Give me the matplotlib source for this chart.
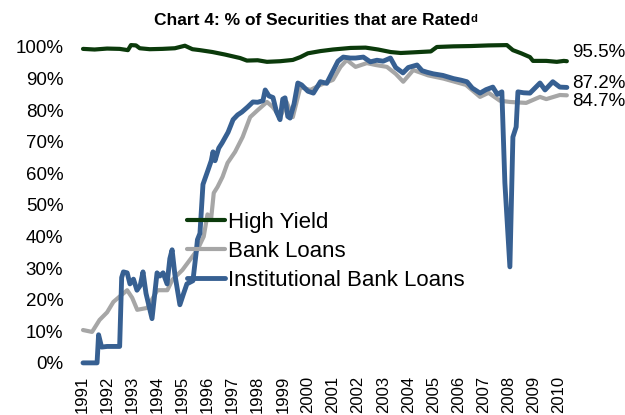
import matplotlib
matplotlib.use('Agg')
from matplotlib import pyplot as plt
import matplotlib.transforms as mtransforms

plt.rcParams['font.family'] = ['Liberation Sans', 'DejaVu Sans']

# High Yield (% rated)
hy_years = [1991.04, 1991.50, 1992.00, 1992.50, 1992.83, 1992.95, 1993.15, 1993.30, 1993.70,
            1994.20, 1994.70, 1995.10, 1995.40, 1995.70, 1996.20, 1996.70, 1997.30, 1997.57,
            1998.00, 1998.37, 1998.90, 1999.40, 1999.70, 2000.00, 2000.50, 2001.00, 2001.70,
            2002.30, 2002.80, 2003.30, 2003.70, 2004.20, 2004.90, 2005.14, 2005.80, 2006.50,
            2007.20, 2007.93, 2008.17, 2008.50, 2008.85, 2008.97, 2009.50, 2009.92, 2010.20,
            2010.32]
hy_vals = [99.4, 99.2, 99.5, 99.4, 99.0, 100.6, 100.5, 99.6, 99.3,
           99.4, 99.6, 100.4, 99.3, 99.0, 98.4, 97.6, 96.5, 95.7,
           95.8, 95.3, 95.5, 95.9, 96.8, 98.0, 98.7, 99.2, 99.7,
           99.8, 99.2, 98.4, 98.1, 98.3, 98.6, 100.0, 100.2, 100.3,
           100.5, 100.6, 99.0, 98.0, 96.8, 95.6, 95.6, 95.3, 95.6,
           95.5]

# Bank Loans
bl_years = [1991.04, 1991.40, 1991.70, 1992.00, 1992.25, 1992.50, 1992.80, 1993.00, 1993.20,
            1993.60, 1994.00, 1994.40, 1994.60, 1995.00, 1995.30, 1995.60, 1995.85, 1996.00,
            1996.15, 1996.25, 1996.40, 1996.60, 1996.80, 1997.10, 1997.40, 1997.70, 1998.00,
            1998.37, 1998.60, 1998.90, 1999.15, 1999.40, 1999.70, 2000.10, 2000.50, 2001.00,
            2001.30, 2001.55, 2001.90, 2002.35, 2002.70, 2003.15, 2003.50, 2003.80, 2004.20,
            2004.80, 2005.40, 2006.30, 2006.86, 2007.20, 2007.65, 2008.05, 2008.70, 2009.25,
            2009.50, 2010.04, 2010.32]
bl_vals = [10.4, 9.8, 13.6, 16.0, 19.3, 21.0, 23.0, 20.6, 16.8,
           17.4, 23.0, 23.0, 26.3, 29.4, 32.6, 35.8, 40.0, 47.0,
           46.0, 53.8, 55.7, 58.9, 63.3, 66.8, 71.5, 77.8, 80.0,
           82.6, 81.0, 77.8, 82.6, 77.8, 87.3, 86.4, 88.0, 89.6,
           93.7, 95.9, 93.7, 94.9, 94.3, 93.7, 91.5, 89.0, 92.7,
           91.0, 90.0, 88.0, 84.2, 85.5, 83.0, 82.6, 82.3, 84.2,
           83.5, 84.8, 84.7]

# Institutional Bank Loans
ibl_years = [1991.04, 1991.60, 1991.66, 1991.78, 1992.00, 1992.50, 1992.58, 1992.65, 1992.80,
             1992.91, 1993.05, 1993.19, 1993.32, 1993.43, 1993.55, 1993.79, 1993.99, 1994.10,
             1994.23, 1994.39, 1994.50, 1994.59, 1994.70, 1994.90, 1995.05, 1995.18, 1995.42,
             1995.55, 1995.60, 1995.70, 1995.82, 1996.02, 1996.15, 1996.22, 1996.30, 1996.45,
             1996.58, 1996.82, 1997.02, 1997.20, 1997.37, 1997.60, 1997.81, 1998.00, 1998.21,
             1998.30, 1998.45, 1998.61, 1998.75, 1998.89, 1999.00, 1999.09, 1999.20, 1999.29,
             1999.45, 1999.60, 1999.75, 2000.00, 2000.22, 2000.50, 2000.75, 2001.02, 2001.20,
             2001.41, 2001.69, 2001.90, 2002.21, 2002.49, 2002.75, 2003.00, 2003.29, 2003.50,
             2003.79, 2004.00, 2004.35, 2004.55, 2004.75, 2005.00, 2005.38, 2005.80, 2006.10,
             2006.34, 2006.55, 2006.86, 2007.10, 2007.37, 2007.55, 2007.73, 2007.85, 2008.05,
             2008.17, 2008.30, 2008.37, 2008.60, 2008.85, 2009.05, 2009.25, 2009.45, 2009.76,
             2010.04, 2010.32]
ibl_vals = [0.0, 0.0, 8.9, 5.0, 5.2, 5.2, 27.0, 28.8, 28.5,
            25.0, 26.5, 23.0, 24.5, 28.8, 22.0, 14.0, 28.5, 27.5,
            28.5, 25.0, 33.0, 35.8, 28.0, 18.4, 22.0, 25.0, 26.0,
            35.0, 39.0, 41.0, 56.5, 61.0, 64.0, 66.8, 64.0, 68.0,
            69.6, 73.0, 77.0, 78.5, 79.4, 81.0, 82.6, 82.5, 83.0,
            86.4, 84.5, 84.0, 79.5, 77.0, 83.5, 83.9, 78.0, 77.5,
            82.0, 88.6, 88.0, 86.0, 85.4, 89.0, 88.5, 92.7, 95.5,
            96.8, 96.5, 96.5, 96.8, 95.3, 95.8, 95.5, 96.5, 93.5,
            91.8, 93.5, 94.3, 92.5, 92.0, 91.5, 91.0, 90.0, 89.5,
            89.0, 87.0, 85.4, 86.5, 87.3, 85.0, 85.8, 57.0, 30.4,
            71.5, 74.7, 85.8, 85.5, 85.4, 87.0, 88.6, 86.4, 89.0,
            87.3, 87.2]

year_ticks = list(range(1991, 2011))
y_ticks = list(range(0, 101, 10))
end_labels = ['95.5%', '87.2%', '84.7%']

fig = plt.figure(figsize=(6.25, 4.15), dpi=100)
ax = fig.add_axes([0.128, 0.118, 0.787, 0.784])

ax.plot(hy_years, hy_vals, color='#0b3a0b', lw=3.0, label='High Yield', solid_capstyle='round')
ax.plot(bl_years, bl_vals, color='#a6a6a6', lw=3.0, label='Bank Loans', solid_capstyle='round')
ax.plot(ibl_years, ibl_vals, color='#376092', lw=3.5, label='Institutional Bank Loans',
        solid_capstyle='round')

ax.set_xlim(1990.92, 2010.52)
ax.set_ylim(-1, 102)
ax.set_xticks(year_ticks)
ax.set_xticklabels([str(y) for y in year_ticks], rotation=90, fontsize=12)
ax.set_yticks(y_ticks)
ax.set_yticklabels([f'{v}%' for v in y_ticks], fontsize=13.5)
ax.tick_params(length=0)
ax.tick_params(axis='y', pad=12)
ax.tick_params(axis='x', pad=7)
for s in ax.spines.values():
    s.set_visible(False)

# labels at the line ends
trans = mtransforms.blended_transform_factory(ax.transAxes, ax.transData)
for txt, y in zip(end_labels, [98.3, 88.3, 82.9]):
    ax.text(1.0, y, txt, transform=trans, ha='left', va='center', fontsize=13.5)

ax.legend(loc='upper left', bbox_to_anchor=(0.2175, 0.4746), frameon=False, fontsize=16,
          borderpad=0, borderaxespad=0, handlelength=1.7, handletextpad=0.14, labelspacing=0.37)

title = fig.text(0.5, 0.95, 'Chart 4: % of Securities that are Rated', ha='center', va='center',
                 fontsize=12.5, fontweight='bold')
ax.annotate('d', xy=(1, 0.95), xycoords=title, ha='left', va='top', fontsize=8, fontweight='bold')

fig.savefig('out.png', dpi=100)
